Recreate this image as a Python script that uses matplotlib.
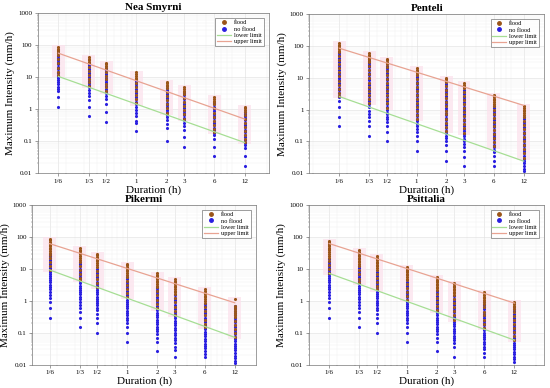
import matplotlib
matplotlib.use("Agg")
import matplotlib.pyplot as plt
import numpy as np
from matplotlib.lines import Line2D

plt.rcParams['font.family'] = ['Liberation Serif', 'DejaVu Serif']

# durations (h) and their tick labels
durations = [1/6, 1/3, 1/2, 1, 2, 3, 6, 12]
dur_labels = ['1/6', '1/3', '1/2', '1', '2', '3', '6', '12']

# ---- Nea Smyrni ----
ns_flood = [
    [85, 78, 71, 64, 58, 48, 36, 27, 20, 15, 11.5],
    [42, 38, 34, 30, 27, 21, 16, 12, 9, 7, 5.2],
    [28, 25, 22, 19.5, 15, 11, 8.5, 6.3, 4.8, 3.6],
    [14, 12.5, 11, 9.7, 8.5, 6.5, 5, 3.8, 2.8, 2.1, 1.5],
    [7.3, 6.5, 5.8, 5.1, 4.5, 3.4, 2.6, 1.9, 1.4, 1.05, 0.75],
    [4.8, 4.3, 3.8, 3.4, 3.0, 2.3, 1.7, 1.25, 0.93, 0.7, 0.5],
    [2.4, 2.1, 1.85, 1.62, 1.4, 1.05, 0.78, 0.58, 0.43, 0.32, 0.24, 0.19],
    [1.2, 1.05, 0.92, 0.8, 0.65, 0.5, 0.37, 0.28, 0.21, 0.16, 0.12, 0.095],
]
ns_noflood = [
    [56, 47, 40, 34, 29, 25, 21, 18, 15, 13, 11, 9.6, 8.4, 7.2, 6.0, 4.8, 4.2, 3.6, 2.4, 1.2],
    [28, 24, 21, 18, 15.6, 13.5, 11.7, 10.2, 8.7, 7.5, 6.6, 5.7, 4.8, 4.0, 3.1, 2.5, 1.9, 1.2, 0.6],
    [19, 16.5, 14.4, 12.6, 10.8, 9.4, 8.2, 7.0, 6.0, 5.2, 4.4, 3.8, 3.2, 2.6, 2.0, 1.4, 0.8, 0.4],
    [9.0, 7.8, 6.8, 5.9, 5.1, 4.4, 3.8, 3.3, 2.8, 2.4, 2.0, 1.7, 1.4, 1.2, 0.96, 0.75, 0.59, 0.44, 0.37, 0.2],
    [4.6, 4.0, 3.5, 3.0, 2.6, 2.2, 1.9, 1.6, 1.35, 1.15, 0.95, 0.8, 0.65, 0.55, 0.45, 0.35, 0.25, 0.1],
    [3.1, 2.7, 2.3, 2.0, 1.7, 1.45, 1.25, 1.05, 0.9, 0.76, 0.64, 0.54, 0.45, 0.37, 0.3, 0.23, 0.13, 0.067],
    [1.6, 1.4, 1.2, 1.0, 0.85, 0.72, 0.62, 0.52, 0.44, 0.37, 0.31, 0.26, 0.22, 0.18, 0.15, 0.12, 0.067, 0.033],
    [0.8, 0.7, 0.6, 0.52, 0.45, 0.38, 0.32, 0.27, 0.23, 0.19, 0.16, 0.13, 0.11, 0.09, 0.075, 0.06, 0.033, 0.017],
]
ns_upper = [56, 0.49]
ns_lower = [10.5, 0.09]

# ---- Penteli ----
pe_flood = [
    [120, 108, 97, 87, 78, 70, 62, 48, 36, 27, 20, 15, 11, 8, 6, 4.5, 3.4, 2.7],
    [58, 52, 47, 42, 38, 34, 30, 23, 17, 13, 9.5, 7, 5.2, 3.9, 2.9, 2.1, 1.6],
    [40, 36, 32, 29, 26, 22, 16.5, 12.5, 9.3, 7, 5.2, 3.9, 2.9, 2.1, 1.55, 1.15],
    [20, 18, 16, 14, 12.3, 9.2, 6.9, 5.2, 3.9, 2.9, 2.2, 1.6, 1.2, 0.9, 0.68, 0.5],
    [10, 9, 8.1, 7.2, 5.4, 4.0, 3.0, 2.25, 1.7, 1.25, 0.93, 0.7, 0.52, 0.39, 0.29, 0.22],
    [6.7, 6.0, 5.4, 4.8, 3.6, 2.7, 2.0, 1.5, 1.1, 0.83, 0.62, 0.46, 0.34, 0.26, 0.19],
    [2.8, 2.5, 2.2, 1.95, 1.7, 1.5, 1.3, 0.98, 0.73, 0.55, 0.41, 0.3, 0.23, 0.17, 0.125, 0.095, 0.07],
    [1.3, 1.15, 1.0, 0.88, 0.77, 0.67, 0.58, 0.43, 0.32, 0.24, 0.18, 0.135, 0.1, 0.075, 0.056, 0.042, 0.03],
]
pe_noflood = [
    [60, 50, 42, 36, 30, 25, 21, 17.5, 14.5, 12, 10, 8.4, 7, 5.8, 4.8, 4.0, 3.3, 2.7, 2.4, 1.8, 1.2, 0.6, 0.3],
    [40, 34, 29, 25, 21, 17.5, 14.5, 12, 10, 8.4, 7, 5.8, 4.8, 4.0, 3.3, 2.7, 2.2, 1.8, 1.5, 1.2, 0.9, 0.75, 0.6, 0.45, 0.3, 0.15],
    [28, 24, 20, 17, 14.4, 12, 10, 8.4, 7, 5.8, 4.8, 4.0, 3.3, 2.7, 2.2, 1.8, 1.5, 1.2, 1.0, 0.8, 0.7, 0.6, 0.5, 0.4, 0.3, 0.2, 0.1],
    [15, 12.5, 10.5, 8.8, 7.4, 6.2, 5.2, 4.4, 3.7, 3.1, 2.6, 2.2, 1.8, 1.5, 1.25, 1.05, 0.88, 0.74, 0.62, 0.52, 0.43, 0.36, 0.3, 0.25, 0.2, 0.15, 0.1, 0.05],
    [7.5, 6.3, 5.3, 4.5, 3.8, 3.2, 2.7, 2.25, 1.9, 1.6, 1.35, 1.12, 0.94, 0.79, 0.66, 0.55, 0.46, 0.38, 0.32, 0.27, 0.22, 0.18, 0.15, 0.125, 0.1, 0.075, 0.05, 0.025],
    [5.0, 4.2, 3.5, 3.0, 2.5, 2.1, 1.75, 1.48, 1.24, 1.04, 0.87, 0.73, 0.61, 0.51, 0.43, 0.36, 0.3, 0.25, 0.21, 0.175, 0.145, 0.12, 0.1, 0.083, 0.067, 0.05, 0.033, 0.017],
    [1.3, 1.1, 0.93, 0.78, 0.66, 0.55, 0.46, 0.39, 0.33, 0.28, 0.23, 0.19, 0.16, 0.135, 0.115, 0.095, 0.08, 0.067, 0.055, 0.045, 0.035, 0.025, 0.017],
    [0.6, 0.5, 0.42, 0.35, 0.29, 0.24, 0.2, 0.167, 0.14, 0.117, 0.1, 0.083, 0.07, 0.058, 0.05, 0.042, 0.035, 0.029, 0.025, 0.021, 0.017, 0.014, 0.012],
]
pe_upper = [84, 1.35]
pe_lower = [2.55, 0.024]

# ---- Pikermi ----
pk_flood = [
    [88, 80, 72, 65, 58, 52, 46, 41, 36, 32, 28, 22, 16, 12, 9.5],
    [44, 40, 36, 32, 28.5, 25, 22, 19, 16.5, 12.5, 9.5, 7, 5.2, 4.5],
    [29, 26.5, 24, 21.5, 19.5, 17.5, 15.5, 13.5, 11.5, 8.5, 6.3, 4.7, 3.5, 2.7],
    [14.5, 13, 11.7, 10.5, 9.4, 8.4, 7.5, 6.6, 5.6, 4.2, 3.1, 2.3, 1.7, 1.3],
    [7.2, 6.5, 5.9, 5.3, 4.8, 4.3, 3.85, 3.4, 3.0, 2.7, 2.0, 1.5, 1.1, 0.8, 0.58],
    [4.7, 4.2, 3.8, 3.4, 3.0, 2.7, 2.4, 2.1, 1.85, 1.6, 1.2, 0.9, 0.65, 0.48, 0.36],
    [2.3, 2.05, 1.82, 1.62, 1.44, 1.28, 1.12, 0.98, 0.85, 0.63, 0.47, 0.35, 0.26, 0.19, 0.15],
    [1.15, 0.7, 0.62, 0.55, 0.48, 0.42, 0.36, 0.31, 0.23, 0.17, 0.13, 0.095, 0.075],
]
pk_noflood = [
    [30, 26, 22.5, 19.5, 17, 14.5, 12.5, 10.8, 9.3, 8, 6.9, 5.9, 5.1, 4.4, 3.8, 3.2, 2.7, 2.3, 1.9, 1.5, 1.2, 0.9, 0.6, 0.3],
    [16, 13.8, 11.9, 10.2, 8.8, 7.6, 6.5, 5.6, 4.8, 4.1, 3.5, 3.0, 2.6, 2.2, 1.9, 1.6, 1.35, 1.15, 0.95, 0.75, 0.6, 0.45, 0.3, 0.15],
    [10, 8.6, 7.4, 6.4, 5.5, 4.7, 4.0, 3.4, 2.9, 2.5, 2.15, 1.85, 1.6, 1.35, 1.15, 1.0, 0.85, 0.72, 0.6, 0.5, 0.4, 0.3, 0.2, 0.1],
    [5.5, 4.7, 4.0, 3.4, 2.9, 2.5, 2.1, 1.8, 1.55, 1.3, 1.1, 0.95, 0.8, 0.68, 0.58, 0.49, 0.42, 0.36, 0.3, 0.25, 0.2, 0.15, 0.1, 0.05],
    [2.6, 2.2, 1.9, 1.6, 1.35, 1.15, 0.98, 0.83, 0.7, 0.6, 0.51, 0.43, 0.37, 0.31, 0.26, 0.22, 0.185, 0.155, 0.13, 0.11, 0.09, 0.07, 0.05, 0.026],
    [1.5, 1.27, 1.07, 0.9, 0.76, 0.64, 0.54, 0.46, 0.39, 0.33, 0.28, 0.235, 0.2, 0.17, 0.145, 0.12, 0.1, 0.085, 0.07, 0.058, 0.047, 0.037, 0.028, 0.017],
    [0.8, 0.68, 0.57, 0.48, 0.41, 0.35, 0.3, 0.25, 0.21, 0.18, 0.15, 0.128, 0.108, 0.091, 0.077, 0.065, 0.055, 0.046, 0.039, 0.033, 0.027, 0.022, 0.017],
    [0.68, 0.58, 0.49, 0.41, 0.35, 0.3, 0.25, 0.21, 0.18, 0.15, 0.125, 0.105, 0.09, 0.076, 0.064, 0.054, 0.046, 0.039, 0.033, 0.028, 0.023, 0.019, 0.016, 0.013, 0.011],
]
pk_upper = [62, 0.87]
pk_lower = [9.3, 0.072]

# ---- Psittalia ----
ps_flood = [
    [75, 68, 62, 56, 51, 46, 42, 38, 34, 30, 26, 22, 18, 13.5, 10, 7.5],
    [38, 34, 31, 28, 25, 22.5, 20, 18, 16, 14, 12, 9, 6.8, 5, 3.8],
    [25, 22.5, 20.5, 18.5, 16.5, 15, 13.5, 12, 10.5, 9, 7, 5.3, 4, 3, 2.3],
    [11.5, 10.5, 9.5, 8.6, 7.8, 7, 6.3, 5.6, 5, 4.4, 3.3, 2.5, 1.9, 1.4, 1.05],
    [5.6, 5.1, 4.6, 4.2, 3.8, 3.4, 3.1, 2.8, 2.5, 2.2, 1.65, 1.25, 0.92, 0.68, 0.5],
    [3.75, 3.35, 3.0, 2.7, 2.4, 2.15, 1.9, 1.7, 1.5, 1.13, 0.85, 0.63, 0.47, 0.35, 0.26],
    [1.9, 1.7, 1.5, 1.35, 1.2, 1.05, 0.93, 0.82, 0.62, 0.46, 0.35, 0.26, 0.19, 0.14],
    [0.9, 0.8, 0.71, 0.63, 0.55, 0.45, 0.34, 0.25, 0.19, 0.14, 0.105, 0.08, 0.06],
]
ps_noflood = [
    [20, 17, 14.5, 12.5, 10.8, 9.3, 8, 6.9, 5.9, 5.1, 4.4, 3.8, 3.2, 2.7, 2.3, 1.9, 1.5, 1.2, 0.9, 0.6, 0.3],
    [12, 10.3, 8.9, 7.6, 6.5, 5.6, 4.8, 4.1, 3.5, 3.0, 2.6, 2.2, 1.9, 1.6, 1.35, 1.15, 0.95, 0.75, 0.6, 0.45, 0.3, 0.15],
    [8, 6.8, 5.8, 5.0, 4.3, 3.7, 3.1, 2.7, 2.3, 1.95, 1.65, 1.4, 1.2, 1.0, 0.85, 0.72, 0.6, 0.5, 0.4, 0.3, 0.2, 0.1],
    [4, 3.4, 2.9, 2.5, 2.1, 1.8, 1.55, 1.3, 1.1, 0.95, 0.8, 0.68, 0.58, 0.49, 0.42, 0.36, 0.3, 0.25, 0.2, 0.15, 0.1, 0.05],
    [2, 1.7, 1.45, 1.24, 1.06, 0.9, 0.77, 0.66, 0.56, 0.48, 0.41, 0.35, 0.3, 0.255, 0.22, 0.185, 0.155, 0.13, 0.11, 0.09, 0.07, 0.05, 0.026],
    [1.4, 1.18, 1.0, 0.85, 0.72, 0.61, 0.52, 0.44, 0.37, 0.31, 0.265, 0.225, 0.19, 0.16, 0.135, 0.115, 0.097, 0.082, 0.07, 0.058, 0.047, 0.035, 0.017],
    [0.9, 0.76, 0.64, 0.54, 0.46, 0.39, 0.33, 0.28, 0.235, 0.2, 0.17, 0.143, 0.12, 0.102, 0.086, 0.073, 0.062, 0.052, 0.044, 0.037, 0.03, 0.024, 0.017],
    [0.55, 0.47, 0.4, 0.34, 0.29, 0.25, 0.21, 0.18, 0.155, 0.13, 0.11, 0.095, 0.08, 0.068, 0.058, 0.049, 0.042, 0.036, 0.03, 0.025, 0.021, 0.018, 0.015, 0.012],
]
ps_upper = [62, 0.85]
ps_lower = [7.2, 0.059]

stations = ['Nea Smyrni', 'Penteli', 'Pikermi', 'Psittalia']
flood_all = [ns_flood, pe_flood, pk_flood, ps_flood]
noflood_all = [ns_noflood, pe_noflood, pk_noflood, ps_noflood]
upper_all = [ns_upper, pe_upper, pk_upper, ps_upper]
lower_all = [ns_lower, pe_lower, pk_lower, ps_lower]

# axes boxes in figure fraction and x limits per panel
boxes = [[0.0685, 0.554, 0.4205, 0.412],
         [0.5624, 0.5534, 0.4267, 0.4106],
         [0.0587, 0.060, 0.4067, 0.4116],
         [0.5613, 0.060, 0.4278, 0.4116]]
xlims = [(0.1035, 21), (0.083, 19.2), (0.112, 19.6), (0.1036, 23.8)]

flood_col = '#9A5418'
noflood_col = '#2A1FE0'
upper_col = '#E8A392'
lower_col = '#A6DE94'

fig = plt.figure(figsize=(5.5, 3.88), dpi=100)

for i in range(4):
    ax = fig.add_axes(boxes[i])
    ax.set_xscale('log')
    ax.set_yscale('log')
    # light pink boxes around the flood range of each duration
    for d, fl in zip(durations, flood_all[i]):
        ax.fill_between([d / 1.16, d * 1.16], min(fl) * 0.85, max(fl) * 1.15,
                        color='#FCE0EC', alpha=0.7, lw=0, zorder=1)
    for d, nf in zip(durations, noflood_all[i]):
        ax.scatter([d] * len(nf), nf, s=5, color=noflood_col, lw=0, zorder=3)
    for d, fl in zip(durations, flood_all[i]):
        ax.scatter([d] * len(fl), fl, s=5, color=flood_col, lw=0, zorder=4)
    ax.plot([durations[0], durations[-1]], lower_all[i], color=lower_col, lw=0.9, zorder=5)
    ax.plot([durations[0], durations[-1]], upper_all[i], color=upper_col, lw=0.9, zorder=5)

    ax.set_xlim(xlims[i])
    ax.set_ylim(0.01, 1000)
    ax.set_xticks(durations)
    ax.set_xticklabels(dur_labels)
    ax.set_yticks([0.01, 0.1, 1, 10, 100, 1000])
    ax.set_yticklabels(['0.01', '0.1', '1', '10', '100', '1000'])
    ax.tick_params(axis='both', which='major', labelsize=5, length=2, width=0.4, color='#555555', pad=2)
    ax.tick_params(axis='both', which='minor', length=1, width=0.3, color='#555555')
    ax.xaxis.set_minor_formatter(matplotlib.ticker.NullFormatter())
    ax.grid(True, which='major', color='#DDDDDD', lw=0.4)
    ax.grid(True, which='minor', color='#EEEEEE', lw=0.3)
    ax.set_axisbelow(True)
    for sp in ax.spines.values():
        sp.set_color('#777777')
        sp.set_linewidth(0.5)

    ax.set_title(stations[i], fontsize=8, fontweight='bold', pad=2)
    ax.set_xlabel('Duration (h)', fontsize=8, labelpad=1)
    ax.set_ylabel('Maximum Intensity (mm/h)', fontsize=8, labelpad=2)

    handles = [
        Line2D([], [], marker='o', ls='', color=flood_col, markersize=2.5),
        Line2D([], [], marker='o', ls='', color=noflood_col, markersize=2.5),
        Line2D([], [], color=lower_col, lw=0.9),
        Line2D([], [], color=upper_col, lw=0.9),
    ]
    leg = ax.legend(handles, ['flood', 'no flood', 'lower limit', 'upper limit'],
                    loc='upper right', fontsize=4.5, frameon=True, fancybox=False,
                    handlelength=2.2, handletextpad=0.5, borderpad=0.3,
                    labelspacing=0.15, borderaxespad=0.8)
    leg.get_frame().set_edgecolor('#555555')
    leg.get_frame().set_linewidth(0.5)

fig.savefig('out.png', dpi=100)
